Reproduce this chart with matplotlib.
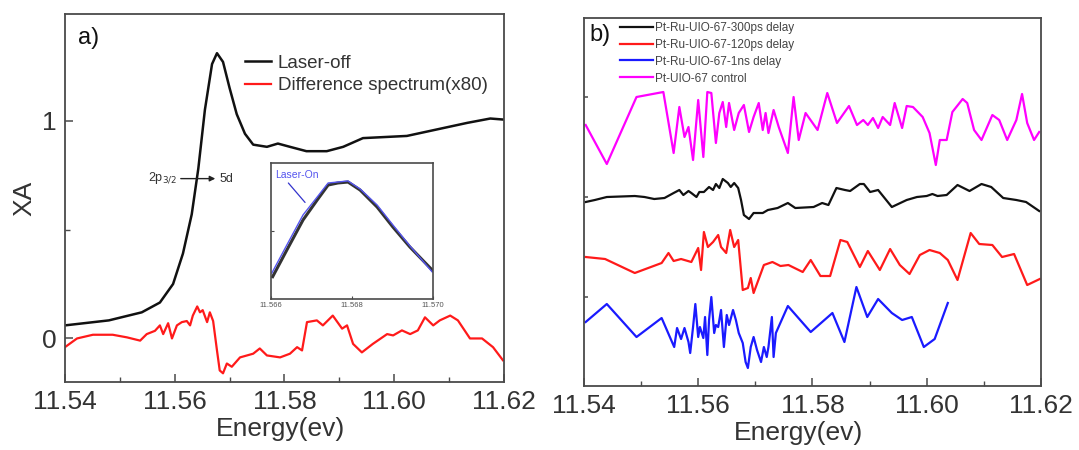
import numpy as np
import matplotlib
matplotlib.use('Agg')
import matplotlib.pyplot as plt
from matplotlib.ticker import MultipleLocator, NullFormatter

plt.rcParams['font.family'] = ['Liberation Sans', 'DejaVu Sans']

## panel a data
e_off = [11.540, 11.548, 11.554, 11.5573, 11.5597, 11.5615, 11.5631, 11.5643, 11.5655, 11.5668,
         11.5677, 11.5688, 11.5700, 11.5713, 11.5728, 11.5743, 11.5768, 11.5788, 11.5810, 11.5840,
         11.5877, 11.5907, 11.5943, 11.6023, 11.6078, 11.6133, 11.6175, 11.6200]
xa_off = [0.06, 0.083, 0.12, 0.165, 0.25, 0.39, 0.57, 0.78, 1.05, 1.26,
          1.31, 1.27, 1.15, 1.03, 0.94, 0.89, 0.88, 0.895, 0.88, 0.86,
          0.86, 0.88, 0.92, 0.93, 0.96, 0.99, 1.01, 1.005]

e_diff = [11.5400, 11.5422, 11.5451, 11.5487, 11.5513, 11.5537, 11.5549, 11.5564, 11.5573, 11.5579,
          11.5588, 11.5595, 11.5604, 11.5613, 11.5622, 11.5628, 11.5633, 11.5641, 11.5646, 11.5651,
          11.5659, 11.5664, 11.5670, 11.5677, 11.5682, 11.5688, 11.5695, 11.5704, 11.5719, 11.5743,
          11.5755, 11.5768, 11.5792, 11.5810, 11.5823, 11.5832, 11.5841, 11.5859, 11.5870, 11.5888,
          11.5905, 11.5914, 11.5925, 11.5941, 11.5961, 11.5987, 11.5998, 11.6014, 11.6029, 11.6043,
          11.6056, 11.6071, 11.6083, 11.6102, 11.6116, 11.6138, 11.6160, 11.6180, 11.6198]
xa_diff = [-0.04, 0.0, 0.017, 0.017, 0.005, -0.01, 0.02, 0.035, 0.06, 0.02,
           0.07, 0.0, 0.06, 0.075, 0.08, 0.06, 0.105, 0.147, 0.12, 0.13,
           0.075, 0.12, 0.08, -0.055, -0.147, -0.16, -0.115, -0.13, -0.087, -0.07,
           -0.046, -0.078, -0.087, -0.07, -0.04, -0.055, 0.075, 0.083, 0.06, 0.105,
           0.045, 0.06, -0.025, -0.064, -0.025, 0.02, 0.014, 0.037, 0.02, 0.037,
           0.097, 0.06, 0.083, 0.105, 0.083, 0.0, 0.0, -0.04, -0.1]

## inset (zoom of the white line peak)
e_ins_off = [11.56604, 11.56639, 11.56679, 11.56714, 11.56741, 11.56765, 11.56790, 11.56820, 11.56862, 11.56901, 11.56943, 11.56998]
y_ins_off = [0.164, 0.360, 0.581, 0.728, 0.838, 0.853, 0.860, 0.801, 0.676, 0.529, 0.382, 0.213]
e_ins_on = [11.56602, 11.56639, 11.56679, 11.56714, 11.56741, 11.56765, 11.56790, 11.56820, 11.56862, 11.56901, 11.56943, 11.56998]
y_ins_on = [0.191, 0.397, 0.618, 0.750, 0.853, 0.860, 0.868, 0.809, 0.691, 0.544, 0.390, 0.199]

## panel b data (offset traces, arbitrary units)
e_ctrl = [11.5403, 11.5440, 11.5492, 11.5539, 11.5557, 11.5567, 11.5576, 11.5583, 11.5591, 11.5600,
          11.5609, 11.5616, 11.5623, 11.5631, 11.5637, 11.5643, 11.5649, 11.5654, 11.5663, 11.5671,
          11.5680, 11.5689, 11.5697, 11.5706, 11.5713, 11.5718, 11.5723, 11.5732, 11.5741, 11.5757,
          11.5767, 11.5776, 11.5788, 11.5809, 11.5826, 11.5843, 11.5864, 11.5878, 11.5889, 11.5897,
          11.5906, 11.5915, 11.5923, 11.5936, 11.5944, 11.5957, 11.5965, 11.5976, 11.5993, 11.6005,
          11.6016, 11.6023, 11.6035, 11.6045, 11.6063, 11.6071, 11.6083, 11.6096, 11.6115, 11.6127,
          11.6141, 11.6157, 11.6167, 11.6176, 11.6188, 11.6197]
y_ctrl = [2.72, 2.33, 3.00, 3.05, 2.44, 2.90, 2.60, 2.70, 2.37, 2.97,
          2.40, 3.05, 3.04, 2.54, 2.84, 2.95, 2.70, 2.94, 2.67, 2.84,
          2.92, 2.65, 2.80, 2.94, 2.67, 2.84, 2.64, 2.87, 2.70, 2.44,
          3.00, 2.57, 2.84, 2.67, 3.04, 2.74, 2.91, 2.72, 2.77, 2.72,
          2.79, 2.69, 2.80, 2.72, 2.94, 2.69, 2.91, 2.90, 2.80, 2.64,
          2.32, 2.57, 2.57, 2.85, 2.98, 2.94, 2.67, 2.57, 2.82, 2.77,
          2.57, 2.77, 3.03, 2.74, 2.57, 2.65]

e_300 = [11.5403, 11.5419, 11.5440, 11.5489, 11.5506, 11.5523, 11.5541, 11.5557, 11.5567, 11.5574,
         11.5583, 11.5588, 11.5597, 11.5602, 11.5610, 11.5619, 11.5626, 11.5631, 11.5637, 11.5643,
         11.5652, 11.5657, 11.5663, 11.5670, 11.5675, 11.5680, 11.5689, 11.5697, 11.5713, 11.5722,
         11.5739, 11.5757, 11.5770, 11.5802, 11.5817, 11.5828, 11.5842, 11.5857, 11.5866, 11.5883,
         11.5890, 11.5901, 11.5915, 11.5939, 11.5965, 11.5983, 11.6000, 11.6010, 11.6019, 11.6035,
         11.6054, 11.6075, 11.6096, 11.6113, 11.6134, 11.6157, 11.6174, 11.6197]
y_300 = [1.95, 1.97, 2.00, 2.01, 2.00, 1.98, 1.99, 2.04, 2.07, 2.02,
         2.06, 2.04, 2.00, 2.05, 2.05, 2.10, 2.07, 2.13, 2.09, 2.18,
         2.14, 2.10, 2.14, 2.09, 1.97, 1.82, 1.78, 1.84, 1.84, 1.87,
         1.89, 1.94, 1.89, 1.90, 1.94, 1.92, 2.09, 2.07, 2.06, 2.13,
         2.13, 2.05, 2.07, 1.90, 1.97, 2.00, 2.01, 2.03, 2.01, 2.02,
         2.12, 2.06, 2.13, 2.10, 1.99, 1.97, 1.95, 1.86]

e_120 = [11.5403, 11.5437, 11.5489, 11.5536, 11.5548, 11.5557, 11.5570, 11.5588, 11.5600, 11.5605,
         11.5610, 11.5617, 11.5626, 11.5635, 11.5640, 11.5649, 11.5656, 11.5663, 11.5670, 11.5678,
         11.5687, 11.5692, 11.5697, 11.5715, 11.5730, 11.5744, 11.5758, 11.5783, 11.5797, 11.5814,
         11.5831, 11.5849, 11.5861, 11.5883, 11.5897, 11.5918, 11.5936, 11.5953, 11.5970, 11.5988,
         11.6005, 11.6023, 11.6037, 11.6054, 11.6077, 11.6092, 11.6115, 11.6132, 11.6153, 11.6176, 11.6198]
y_120 = [1.40, 1.38, 1.24, 1.34, 1.44, 1.36, 1.38, 1.35, 1.49, 1.27,
         1.65, 1.50, 1.55, 1.62, 1.50, 1.44, 1.67, 1.50, 1.57, 1.07,
         1.09, 1.19, 1.04, 1.32, 1.35, 1.31, 1.32, 1.25, 1.37, 1.21,
         1.21, 1.57, 1.55, 1.30, 1.46, 1.27, 1.48, 1.32, 1.23, 1.42,
         1.47, 1.44, 1.37, 1.17, 1.64, 1.53, 1.52, 1.40, 1.43, 1.12, 1.18]

e_1ns = [11.5403, 11.5440, 11.5492, 11.5536, 11.5558, 11.5563, 11.5570, 11.5576, 11.5583, 11.5586,
         11.5591, 11.5595, 11.5600, 11.5603, 11.5609, 11.5612, 11.5616, 11.5619, 11.5623, 11.5628,
         11.5631, 11.5635, 11.5640, 11.5645, 11.5650, 11.5654, 11.5661, 11.5666, 11.5671, 11.5678,
         11.5683, 11.5687, 11.5692, 11.5697, 11.5703, 11.5710, 11.5715, 11.5720, 11.5723, 11.5729,
         11.5732, 11.5736, 11.5757, 11.5797, 11.5835, 11.5856, 11.5877, 11.5896, 11.5915, 11.5939,
         11.5957, 11.5974, 11.5995, 11.6014, 11.6037]
y_1ns = [0.75, 0.93, 0.60, 0.79, 0.50, 0.69, 0.58, 0.69, 0.55, 0.44,
         0.70, 0.93, 0.60, 0.70, 0.59, 0.80, 0.42, 0.77, 1.00, 0.64,
         0.72, 0.70, 0.87, 0.50, 0.82, 0.72, 0.87, 0.77, 0.64, 0.54,
         0.35, 0.29, 0.50, 0.60, 0.47, 0.35, 0.50, 0.40, 0.50, 0.80,
         0.40, 0.64, 0.91, 0.65, 0.84, 0.55, 1.10, 0.80, 0.98, 0.84,
         0.77, 0.80, 0.50, 0.58, 0.94]

SPINE = '#4a4a4a'
TXT = '#333333'

fig = plt.figure(figsize=(10.79, 4.5), dpi=100)
axa = fig.add_axes([0.0602, 0.1511, 0.4069, 0.8178])
axb = fig.add_axes([0.5412, 0.1422, 0.4235, 0.8178])


def style_axes(ax):
    for s in ax.spines.values():
        s.set_color(SPINE)
        s.set_linewidth(1.3)
    ax.tick_params(which='both', direction='in', color=SPINE, top=False, right=False)
    ax.tick_params(which='major', length=6, width=1.1, labelsize=19, labelcolor=TXT, pad=6)
    ax.tick_params(which='minor', length=3.5, width=1.0)
    ax.set_xlim(11.54, 11.62)
    ax.xaxis.set_minor_locator(MultipleLocator(0.01))
    ax.set_xticks([11.54, 11.56, 11.58, 11.60, 11.62])
    ax.set_xticklabels(['11.54', '11.56', '11.58', '11.60', '11.62'])


## panel a
style_axes(axa)
axa.plot(e_off, xa_off, color='#111111', lw=1.8, label='Laser-off')
axa.plot(e_diff, xa_diff, color='#ff1a1a', lw=1.6, label='Difference spectrum(x80)')
axa.set_ylim(-0.2, 1.49)
axa.set_yticks([0, 1])
axa.set_yticklabels(['0', '1'])
axa.yaxis.set_minor_locator(MultipleLocator(0.5))
axa.set_ylabel('XA', fontsize=19, color=TXT, labelpad=4)
axa.set_xlabel('Energy(ev)', fontsize=19, color=TXT, labelpad=5)
axa.xaxis.set_label_coords(0.49, -0.095)
axa.text(0.03, 0.965, 'a)', transform=axa.transAxes, fontsize=17, va='top', ha='left', color='#111')
leg = axa.legend(loc='upper left', bbox_to_anchor=(0.41, 0.89), frameon=False, fontsize=13.5,
                 handlelength=1.4, handletextpad=0.35, labelspacing=0.3, borderpad=0, borderaxespad=0)
for t in leg.get_texts():
    t.set_color(TXT)

axa.annotate('', xy=(11.5679, 0.734), xytext=(11.5606, 0.734),
             arrowprops=dict(arrowstyle='-|>', color='#222', lw=1.0, mutation_scale=8))
axa.text(11.5604, 0.734, r'2p$_{3/2}$', fontsize=9, ha='right', va='center', color='#333')
axa.text(11.5681, 0.734, '5d', fontsize=9, ha='left', va='center', color='#333')

## inset
axi = fig.add_axes([0.2512, 0.3356, 0.1501, 0.3022])
for s in axi.spines.values():
    s.set_color(SPINE)
    s.set_linewidth(1.2)
axi.plot(e_ins_off, y_ins_off, color='#333333', lw=2.2)
axi.plot(e_ins_on, y_ins_on, color='#5555ee', lw=1.0)
axi.set_xlim(11.566, 11.570)
axi.set_ylim(0, 1)
axi.set_xticks([11.566, 11.568, 11.570])
axi.set_xticklabels(['11.566', '11.568', '11.570'])
axi.set_yticks([0.5])
axi.yaxis.set_major_formatter(NullFormatter())
axi.tick_params(direction='in', length=2, width=0.8, color=SPINE, labelsize=5.5, labelcolor='#555', pad=2)
axi.annotate('Laser-On', xy=(11.56684, 0.71), xytext=(11.56610, 0.91), fontsize=7.5, color='#5555ee',
             va='center', ha='left',
             arrowprops=dict(arrowstyle='-', color='#3333cc', lw=0.9, shrinkA=0, shrinkB=0,
                             relpos=(0.25, 0.0)))

## panel b
style_axes(axb)
axb.plot(e_300, y_300, color='#111111', lw=1.6, label='Pt-Ru-UIO-67-300ps delay')
axb.plot(e_120, y_120, color='#ff1a1a', lw=1.6, label='Pt-Ru-UIO-67-120ps delay')
axb.plot(e_1ns, y_1ns, color='#1a1aff', lw=1.6, label='Pt-Ru-UIO-67-1ns delay')
axb.plot(e_ctrl, y_ctrl, color='#ff00ff', lw=1.6, label='Pt-UIO-67 control')
axb.set_ylim(0.11, 3.79)
axb.set_yticks([1, 2, 3])
axb.yaxis.set_major_formatter(NullFormatter())
axb.tick_params(axis='y', which='major', length=3)
axb.set_xlabel('Energy(ev)', fontsize=19, color=TXT, labelpad=2)
axb.xaxis.set_label_coords(0.47, -0.095)
axb.text(0.013, 0.985, 'b)', transform=axb.transAxes, fontsize=17, va='top', ha='left', color='#111')
legb = axb.legend(loc='upper left', bbox_to_anchor=(0.079, 0.99), frameon=False, fontsize=8.5,
                  handlelength=2.8, handletextpad=0.15, labelspacing=0.42, borderpad=0, borderaxespad=0)
for t in legb.get_texts():
    t.set_color('#444')

fig.savefig('out.png', dpi=100)
